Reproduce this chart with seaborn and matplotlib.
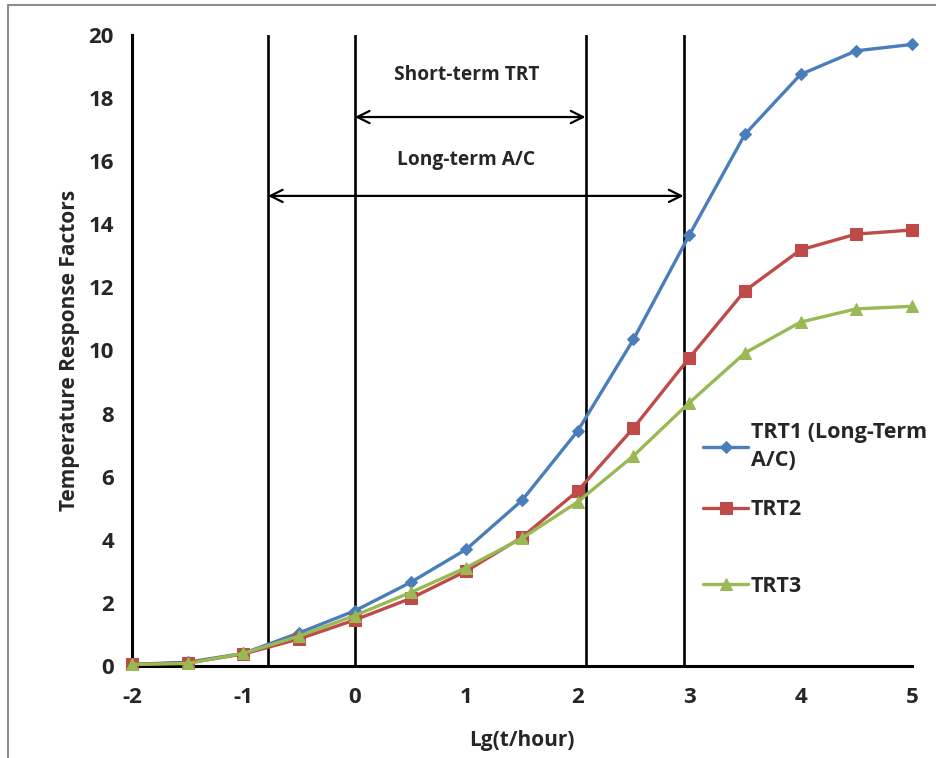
import matplotlib
matplotlib.use("Agg")
import matplotlib.pyplot as plt
import seaborn as sns
import pandas as pd
from matplotlib.lines import Line2D

# ---- data ----
lg_t = [-2, -1.5, -1, -0.5, 0, 0.5, 1, 1.5, 2, 2.5, 3, 3.5, 4, 4.5, 5]
trt1 = [0.05, 0.12, 0.40, 1.05, 1.75, 2.65, 3.70, 5.25, 7.45, 10.35, 13.65, 16.85, 18.75, 19.50, 19.70]
trt2 = [0.05, 0.10, 0.38, 0.86, 1.46, 2.14, 3.01, 4.08, 5.55, 7.54, 9.76, 11.89, 13.19, 13.69, 13.82]
trt3 = [0.05, 0.08, 0.40, 0.95, 1.60, 2.33, 3.12, 4.05, 5.20, 6.66, 8.34, 9.92, 10.90, 11.32, 11.40]
series_labels = ["TRT1 (Long-Term\nA/C)", "TRT2", "TRT3"]
vlines_x = [-0.78, 0.0, 2.07, 2.95]
short_span = (0.0, 2.07, 17.4)
long_span = (-0.78, 2.95, 14.9)
short_text = "Short-term TRT"
long_text = "Long-term A/C"

sns.set_style("white")
plt.rcParams['font.family'] = ['Open Sans', 'DejaVu Sans']
plt.rcParams['font.weight'] = 'bold'
plt.rcParams['axes.unicode_minus'] = False

fig = plt.figure(figsize=(9.37, 7.58), dpi=100)
ax = fig.add_axes([132/937, 92/758, 780/937, 631/758])

colors = ["#4a7ebb", "#be4b48", "#98b954"]
markers = ["D", "s", "^"]
msizes = [6, 8, 8]
for vals, lab, c, m, ms in zip([trt1, trt2, trt3], series_labels, colors, markers, msizes):
    df = pd.DataFrame({"x": lg_t, "y": vals})
    sns.lineplot(data=df, x="x", y="y", ax=ax, color=c, marker=m, markersize=ms,
                 markeredgecolor=c, linewidth=2.4, label=lab, clip_on=False, zorder=3)

for xv in vlines_x:
    ax.axvline(xv, color="black", lw=1.9, zorder=2)

for (x0, x1, yv), txt, ty in [(short_span, short_text, 18.73), (long_span, long_text, 16.04)]:
    ax.annotate("", xy=(x1, yv), xytext=(x0, yv),
                arrowprops=dict(arrowstyle="<->", lw=1.6, color="black",
                                mutation_scale=22, shrinkA=0, shrinkB=0))
    ax.text(1.0, ty, txt, ha="center", va="center", fontsize=13.8, fontweight="bold")

ax.set_xlim(-2, 5)
ax.set_ylim(0, 20)
ax.set_xticks(range(-2, 6))
ax.set_yticks(range(0, 21, 2))
ax.tick_params(axis="both", direction="in", length=6, width=2, labelsize=16)
ax.tick_params(axis="x", pad=15)
ax.tick_params(axis="y", pad=13)
for lbl in ax.get_xticklabels() + ax.get_yticklabels():
    lbl.set_fontweight("bold")
for s in ["top", "right"]:
    ax.spines[s].set_visible(False)
for s in ["left", "bottom"]:
    ax.spines[s].set_linewidth(2.2)
    ax.spines[s].set_color("black")

ax.set_xlabel("Lg(t/hour)", fontsize=15, fontweight="bold", labelpad=16)
ax.set_ylabel("Temperature Response Factors", fontsize=15, fontweight="bold", labelpad=6)

handles, labels = ax.get_legend_handles_labels()
leg_kw = dict(bbox_transform=fig.transFigure, frameon=False, fontsize=15.5,
              handlelength=2.1, handletextpad=0.12, borderpad=0, borderaxespad=0)
leg1 = ax.legend(handles[:2], labels[:2], loc="upper left",
                 bbox_to_anchor=(703/937, (758-422)/758), labelspacing=1.3, **leg_kw)
for t in leg1.get_texts():
    t.set_fontweight("bold")
    t.set_linespacing(1.45)
ax.add_artist(leg1)
leg2 = ax.legend(handles[2:], labels[2:], loc="center left",
                 bbox_to_anchor=(703/937, (758-586)/758), **leg_kw)
for t in leg2.get_texts():
    t.set_fontweight("bold")

# outer border lines (left and top)
fig.add_artist(Line2D([8/937, 8/937], [0, 1 - 5/758], transform=fig.transFigure, color="#8c8c8c", lw=1.5))
fig.add_artist(Line2D([8/937, 1], [1 - 5/758, 1 - 5/758], transform=fig.transFigure, color="#8c8c8c", lw=1.5))

fig.savefig("out.png", dpi=100)
